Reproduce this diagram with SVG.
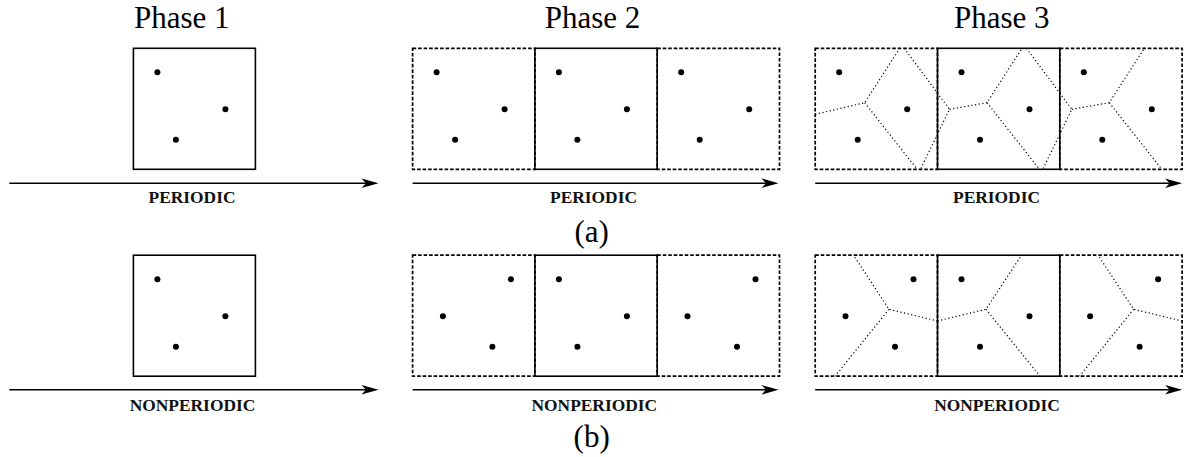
<svg xmlns="http://www.w3.org/2000/svg" width="1186" height="457" viewBox="0 0 1186 457">
<style>
.title{font-family:"Liberation Serif","DejaVu Serif",serif;font-size:31px;fill:#000;text-anchor:middle}
.lab{font-family:"Liberation Serif","DejaVu Serif",serif;font-size:17.4px;font-weight:bold;fill:#111;text-anchor:middle}
.solid{fill:none;stroke:#000;stroke-width:1.6}
.dash{fill:none;stroke:#000;stroke-width:1.7;stroke-dasharray:3.6 1.9}
.vor{fill:none;stroke:#000;stroke-width:1.2;stroke-dasharray:1.2 2.5}
.arr{fill:none;stroke:#000;stroke-width:1.4}
</style>
<defs>
<marker id="ah" markerUnits="userSpaceOnUse" viewBox="-6 -6 20 12" markerWidth="20" markerHeight="12" refX="0" refY="0" orient="auto" overflow="visible">
<path d="M-4.5,-4.8 L12.5,0 L-4.5,4.8 L0,0 Z" fill="#000"/>
</marker>
<circle id="d" r="3" fill="#000"/>
</defs>

<g id="titles">
<text class="title" x="181.7" y="28.3">Phase 1</text>
<text class="title" x="592.5" y="28.3">Phase 2</text>
<text class="title" x="1001.7" y="28.3">Phase 3</text>
</g>

<!-- Row (a): periodic -->
<g id="a-phase1">
<rect class="solid" x="133.4" y="48.3" width="122" height="121"/>
<use href="#d" x="157.4" y="72.3"/><use href="#d" x="225.4" y="109.3"/><use href="#d" x="175.9" y="139.8"/>
</g>
<g id="a-phase2">
<rect class="dash" x="412.6" y="48.3" width="122.3" height="121"/>
<rect class="dash" x="657.2" y="48.3" width="122.3" height="121"/>
<rect class="solid" x="534.9" y="48.3" width="122.3" height="121"/>
<use href="#d" x="436.6" y="72.3"/><use href="#d" x="504.6" y="109.3"/><use href="#d" x="455.1" y="139.8"/>
<use href="#d" x="558.9" y="72.3"/><use href="#d" x="626.9" y="109.3"/><use href="#d" x="577.4" y="139.8"/>
<use href="#d" x="681.2" y="72.3"/><use href="#d" x="749.2" y="109.3"/><use href="#d" x="699.7" y="139.8"/>
</g>
<g id="a-phase3">
<rect class="dash" x="815.2" y="48.3" width="122.3" height="121"/>
<rect class="dash" x="1059.8" y="48.3" width="122.3" height="121"/>
<rect class="solid" x="937.5" y="48.3" width="122.3" height="121"/>
<path class="vor" d="M815.2,114.3 L864.7,102.7 L899.7,48.3 M864.7,102.7 L917.2,169.3
M904.2,48.3 L949.5,109.3 L920.5,169.3 M949.5,109.3 L987,102.7 L1022,48.3 M987,102.7 L1039.5,169.3
M1026.5,48.3 L1071.8,109.3 L1042.8,169.3 M1071.8,109.3 L1109.3,102.7 L1144.3,48.3 M1109.3,102.7 L1161.8,169.3"/>
<use href="#d" x="839.2" y="72.3"/><use href="#d" x="907.2" y="109.3"/><use href="#d" x="857.7" y="139.8"/>
<use href="#d" x="961.5" y="72.3"/><use href="#d" x="1029.5" y="109.3"/><use href="#d" x="980" y="139.8"/>
<use href="#d" x="1083.8" y="72.3"/><use href="#d" x="1151.8" y="109.3"/><use href="#d" x="1102.3" y="139.8"/>
</g>

<!-- Row (b): nonperiodic -->
<g id="b-phase1">
<rect class="solid" x="133.4" y="255.2" width="122" height="121"/>
<use href="#d" x="157.4" y="279.2"/><use href="#d" x="225.4" y="316.2"/><use href="#d" x="175.9" y="346.7"/>
</g>
<g id="b-phase2">
<rect class="dash" x="412.6" y="255.2" width="122.3" height="121"/>
<rect class="dash" x="657.2" y="255.2" width="122.3" height="121"/>
<rect class="solid" x="534.9" y="255.2" width="122.3" height="121"/>
<use href="#d" x="510.9" y="279.2"/><use href="#d" x="442.9" y="316.2"/><use href="#d" x="492.4" y="346.7"/>
<use href="#d" x="558.9" y="279.2"/><use href="#d" x="626.9" y="316.2"/><use href="#d" x="577.4" y="346.7"/>
<use href="#d" x="755.5" y="279.2"/><use href="#d" x="687.5" y="316.2"/><use href="#d" x="737" y="346.7"/>
</g>
<g id="b-phase3">
<rect class="dash" x="815.2" y="255.2" width="122.3" height="121"/>
<rect class="dash" x="1059.8" y="255.2" width="122.3" height="121"/>
<rect class="solid" x="937.5" y="255.2" width="122.3" height="121"/>
<path class="vor" d="M937.5,321 L889,309.3 L853.5,255.2 M889,309.3 L835,376.2
M937.5,321 L986,309.3 L1021.5,255.2 M986,309.3 L1040,376.2
M1182.1,321 L1133.6,309.3 L1098.1,255.2 M1133.6,309.3 L1079.6,376.2"/>
<use href="#d" x="913.5" y="279.2"/><use href="#d" x="845.5" y="316.2"/><use href="#d" x="895" y="346.7"/>
<use href="#d" x="961.5" y="279.2"/><use href="#d" x="1029.5" y="316.2"/><use href="#d" x="980" y="346.7"/>
<use href="#d" x="1158.1" y="279.2"/><use href="#d" x="1090.1" y="316.2"/><use href="#d" x="1139.6" y="346.7"/>
</g>

<g id="connectors">
<line class="arr" x1="9.3" y1="183.2" x2="366" y2="183.2" marker-end="url(#ah)"/>
<line class="arr" x1="412.6" y1="183.2" x2="766" y2="183.2" marker-end="url(#ah)"/>
<line class="arr" x1="815.2" y1="183.2" x2="1169.6" y2="183.2" marker-end="url(#ah)"/>
<line class="arr" x1="9.3" y1="389.8" x2="366" y2="389.8" marker-end="url(#ah)"/>
<line class="arr" x1="412.6" y1="389.8" x2="766" y2="389.8" marker-end="url(#ah)"/>
<line class="arr" x1="815.2" y1="389.8" x2="1169.6" y2="389.8" marker-end="url(#ah)"/>
</g>

<g id="labels">
<text class="lab" x="192" y="203">PERIODIC</text>
<text class="lab" x="593.5" y="203">PERIODIC</text>
<text class="lab" x="996.5" y="203">PERIODIC</text>
<text class="lab" x="192.5" y="410.5">NONPERIODIC</text>
<text class="lab" x="594.3" y="410.5">NONPERIODIC</text>
<text class="lab" x="997" y="410.5">NONPERIODIC</text>
<text class="title" x="591.7" y="242">(a)</text>
<text class="title" x="591.7" y="447">(b)</text>
</g>
</svg>
